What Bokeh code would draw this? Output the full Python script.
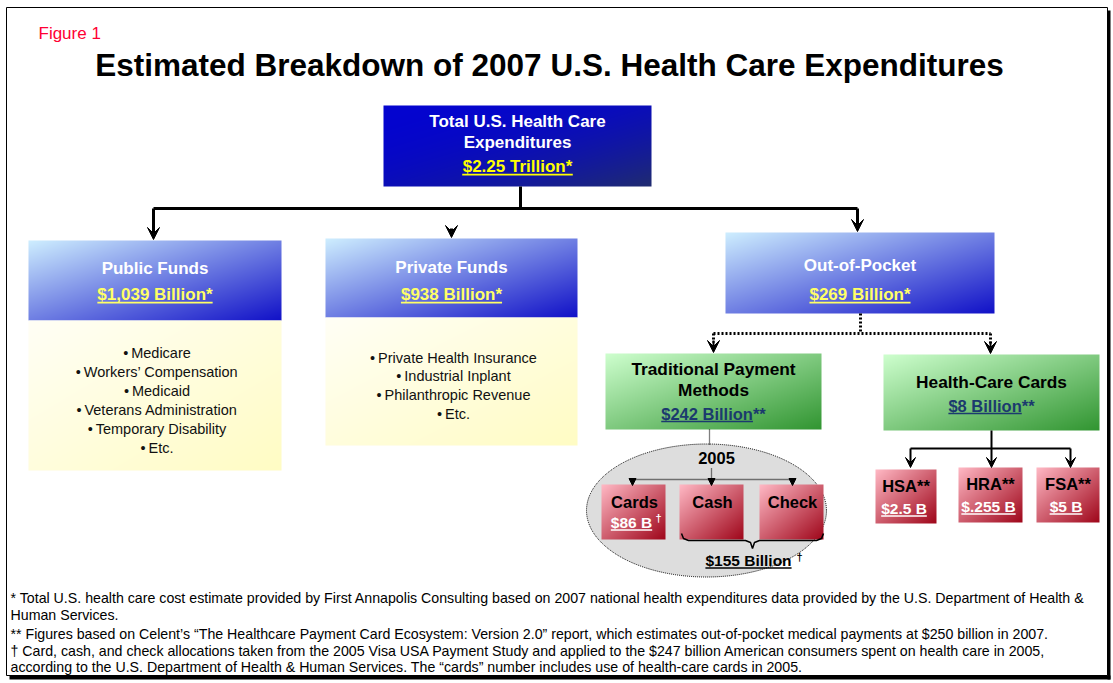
import numpy as np
from bokeh.plotting import figure
from bokeh.models import Range1d, Arrow, VeeHead, NormalHead
from bokeh.core.properties import value
from bokeh.embed import file_html
from bokeh.resources import INLINE

# ---------------- data ----------------
figure_label = "Figure 1"
title = "Estimated Breakdown of 2007 U.S. Health Care Expenditures"
total_lines = ["Total U.S. Health Care", "Expenditures"]
total_amount = "$2.25 Trillion*"
fund_names = ["Public Funds", "Private Funds", "Out-of-Pocket"]
fund_amounts = ["$1,039 Billion*", "$938 Billion*", "$269 Billion*"]
public_items = ["Medicare", "Workers\u2019 Compensation", "Medicaid",
                "Veterans Administration", "Temporary Disability", "Etc."]
private_items = ["Private Health Insurance", "Industrial Inplant",
                 "Philanthropic Revenue", "Etc."]
oop_names = [["Traditional Payment", "Methods"], ["Health-Care Cards"]]
oop_amounts = ["$242 Billion", "$8 Billion"]
oop_marks = ["**", "**"]
method_year = "2005"
method_names = ["Cards", "Cash", "Check"]
cards_amount = "$86 B"
cash_check_amount = "$155 Billion"
account_names = ["HSA**", "HRA**", "FSA**"]
account_amounts = ["$2.5 B", "$.255 B", "$5 B"]
footnotes = [
    "* Total U.S. health care cost estimate provided by First Annapolis Consulting  based on 2007 national health expenditures data provided by the U.S. Department of Health &",
    "Human Services.",
    "** Figures based on Celent\u2019s \u201cThe Healthcare Payment Card Ecosystem: Version 2.0\u201d report, which estimates out-of-pocket medical payments at $250 billion in 2007.",
    "\u2020 Card, cash, and check allocations taken from the 2005 Visa USA Payment Study and applied to the $247 billion American consumers spent on health care in 2005,",
    "according to the U.S. Department of Health & Human Services. The \u201ccards\u201d number includes use of health-care cards in 2005.",
]

# ---------------- layout (reference pixels) ----------------
W, HT = 1113, 683
def Y(py):
    return HT - py

FONT = "Liberation Sans"
BLUE_GRAD = ((206, 238, 255), (18, 18, 200))
TOP_GRAD = ((4, 4, 208), (32, 44, 112))
YELLOW_GRAD = ((255, 255, 246), (255, 252, 196))
GREEN_GRAD = ((206, 255, 206), (50, 150, 50))
PINK_GRAD = ((255, 184, 196), (160, 8, 28))

top_box = (383, 105, 651, 186)
fund_boxes = [(28, 240, 281, 320), (325, 238, 577, 317), (725, 232, 994, 313)]
item_boxes = [(28, 320, 281, 470), (325, 317, 577, 445)]
oop_boxes = [(605, 353, 821, 429), (883, 354, 1099, 430)]
method_boxes = [(601, 484, 665, 539), (679, 484, 743, 539), (759, 484, 823, 539)]
account_boxes = [(875, 469, 936, 523), (958, 467, 1022, 522), (1036, 467, 1099, 522)]

p = figure(width=W, height=HT, x_range=Range1d(0, W), y_range=Range1d(0, HT),
           output_backend="svg", toolbar_location=None, min_border=0)
p.axis.visible = False
p.grid.visible = False
p.outline_line_color = None
p.background_fill_color = "white"
p.border_fill_color = "white"

BOLD_W = {' ': 278, '$': 556, '.': 278, ',': 278, '*': 389, 'B': 722, 'T': 611,
          'r': 389, 'i': 278, 'l': 278, 'o': 611, 'n': 611}

def bold_width(s, size):
    return sum(BOLD_W.get(ch, 556) for ch in s) * size / 1000.0

def txt(x, py, s, size, color="black", bold=False, align="center"):
    p.text(x=[x], y=[Y(py)], text=[s], text_font=value(FONT),
           text_font_size=value(f"{size}px"), text_color=color,
           text_font_style=value("bold" if bold else "normal"),
           text_align=value(align), text_baseline=value("middle"))

def underlined(x, py, s, size, color, part=None):
    txt(x, py, s, size, color, bold=True)
    full = bold_width(s, size)
    w = bold_width(part if part is not None else s, size)
    left = x - full / 2
    uy = Y(py + 0.42 * size + 1)
    p.line([left, left + w], [uy, uy], line_color=color, line_width=1.6)

def grad_box(box, colors, power=1.0):
    x0, y0, x1, y1 = box
    w = int(round(x1 - x0)); h = int(round(y1 - y0))
    cf = np.linspace(0, 1, w)[None, :]
    tf = np.linspace(1, 0, h)[:, None]  # row 0 is the bottom row
    t = ((cf + tf) / 2.0) ** power
    c1 = np.array(colors[0], float); c2 = np.array(colors[1], float)
    rgb = c1[None, None, :] + (c2 - c1)[None, None, :] * t[:, :, None]
    img = np.empty((h, w), dtype=np.uint32)
    v = img.view(dtype=np.uint8).reshape((h, w, 4))
    v[:, :, :3] = np.clip(rgb, 0, 255).astype(np.uint8)
    v[:, :, 3] = 255
    p.image_rgba(image=[img], x=x0, y=Y(y1), dw=w, dh=h)

def seg(xs, pys, width=3, dash="solid", color="black"):
    p.line(xs, [Y(v) for v in pys], line_color=color, line_width=width, line_dash=dash)

def arrow(x, py0, py1, size=12, width=3, dash="solid", head="vee"):
    hd = VeeHead(size=size, fill_color="black", line_color="black") if head == "vee" \
        else NormalHead(size=size, fill_color="black", line_color="black", line_width=1)
    p.add_layout(Arrow(end=hd, x_start=x, y_start=Y(py0), x_end=x, y_end=Y(py1),
                       line_width=width, line_color="black", line_dash=dash))

# outer frame with shadow
p.quad(left=6, right=1107, top=Y(7), bottom=Y(675), fill_color=None, line_color="black", line_width=1)
p.quad(left=9, right=1110, top=Y(675), bottom=Y(679), fill_color="black", line_color=None)
p.quad(left=1107, right=1110, top=Y(10), bottom=Y(679), fill_color="black", line_color=None)

# titles
txt(38, 33, figure_label, 17, color="#ff0033", align="left")
txt(549, 64, title, 31.5, bold=True)

# ellipse behind the payment methods
p.ellipse(x=706, y=Y(510), width=240, height=133, fill_color="#dddddd",
          line_color="black", line_width=1, line_dash="1 1")

# boxes
grad_box(top_box, TOP_GRAD, power=2.0)
for b in fund_boxes:
    grad_box(b, BLUE_GRAD)
for b in item_boxes:
    grad_box(b, YELLOW_GRAD)
for b in oop_boxes:
    grad_box(b, GREEN_GRAD)
for b in method_boxes + account_boxes:
    grad_box(b, PINK_GRAD)

# solid connectors from the total
seg([520, 520], [186, 208])
seg([153, 857], [208, 208])
arrow(153, 208, 239)
arrow(857, 208, 231)
arrow(451, 228, 237)

# dotted connectors from out-of-pocket
seg([860, 860], [313, 333], dash="2 2")
seg([713, 990], [333, 333], dash="2 2")
seg([713, 713], [333, 342], dash="2 2")
seg([990, 990], [333, 343], dash="2 2")
arrow(713, 340, 352, width=2)
arrow(990, 341, 353, width=2)

# traditional -> ellipse
seg([709, 709], [429, 444], width=1.3, dash="1 1")
seg([632, 792], [479, 479], width=1.3, dash="1 1")
arrow(632, 479, 485, size=7, width=1.3, head="normal")
arrow(792, 479, 485, size=7, width=1.3, head="normal")
arrow(711, 468, 485, size=7, width=1.3, dash="1 1", head="normal")

# brace under cash / check
bx = [681, 683, 688, 745, 750, 752, 754, 759, 816, 821, 823]
by = [533, 538, 540, 540, 542, 548, 542, 540, 540, 538, 533]
seg(bx, by, width=1.5)

# health-care cards connectors
seg([991, 991], [430, 448], width=2)
seg([910, 1070], [448, 448], width=2)
for ax in [910, 991, 1070]:
    arrow(ax, 448, 467, size=10, width=2)

# ---- texts ----
cx = (top_box[0] + top_box[2]) / 2
txt(cx, 121, total_lines[0], 17, "white", bold=True)
txt(cx, 142, total_lines[1], 17, "white", bold=True)
underlined(cx, 166, total_amount, 17, "#ffff00")

title_y = [268, 267, 265]
amount_y = [294, 294, 294]
for b, name, amt, ty, ay in zip(fund_boxes, fund_names, fund_amounts, title_y, amount_y):
    c = (b[0] + b[2]) / 2
    txt(c, ty, name, 17, "white", bold=True)
    underlined(c, ay, amt, 17, "#ffff66")

for items, b, start in [(public_items, item_boxes[0], 352), (private_items, item_boxes[1], 357)]:
    c = (b[0] + b[2]) / 2 + 2
    step = 19 if items is public_items else 18.7
    for i, it in enumerate(items):
        txt(c, start + i * step, "\u2022\u2009" + it, 14.5, "#111111")

NAVY = "#1b3a6e"
c = (oop_boxes[0][0] + oop_boxes[0][2]) / 2
txt(c, 368, oop_names[0][0], 17.3, "black", bold=True)
txt(c, 389, oop_names[0][1], 17.3, "black", bold=True)
underlined(c, 413, oop_amounts[0] + oop_marks[0], 16.5, NAVY, part=oop_amounts[0])
c = (oop_boxes[1][0] + oop_boxes[1][2]) / 2
txt(c, 381, oop_names[1][0], 17.3, "black", bold=True)
underlined(c, 405, oop_amounts[1] + oop_marks[1], 16.5, NAVY, part=oop_amounts[1])

txt(716, 457, method_year, 16.5, "black", bold=True)
for b, name in zip(method_boxes, method_names):
    txt((b[0] + b[2]) / 2 + 1, 501, name, 16.5, "black", bold=True)
underlined(631, 522, cards_amount, 15.5, "white")
txt(655, 517, "\u2020", 11, "white", bold=True, align="left")
underlined(748, 560, cash_check_amount, 15.5, "black")
txt(796, 556, "\u2020", 11, "black", bold=True, align="left")

for b, name, amt in zip(account_boxes, account_names, account_amounts):
    c = (b[0] + b[2]) / 2
    txt(c, b[1] + 16, name, 16.5, "black", bold=True)
    underlined(c - 2, b[1] + 39, amt, 15.5, "white")

foot_y = [597, 614, 633, 650, 666]
for fy, line in zip(foot_y, footnotes):
    txt(10, fy, line, 14.2, "black", align="left")

open("out.html", "w").write(file_html(p, INLINE))
